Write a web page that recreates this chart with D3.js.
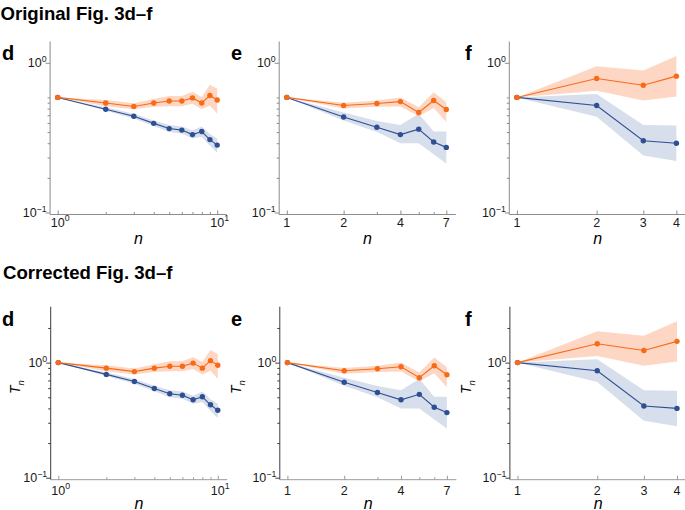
<!DOCTYPE html>
<html>
<head>
<meta charset="utf-8">
<script src="https://cdn.jsdelivr.net/npm/d3@7"></script>
<style>
  body { margin: 0; background: #fff; }
  svg { display: block; }
  text { font-family: "Liberation Sans", Arial, Helvetica, sans-serif; }
</style>
</head>
<body>
<svg id="chart" width="685" height="510"></svg>
<script>
// ---- data ----
const nD = [1, 2, 3, 4, 5, 6, 7, 8, 9, 10];
const orangeD   = [1, 0.895, 0.835, 0.895, 0.93, 0.93, 0.99, 0.895, 1.04, 0.95];
const orangeDHi = [1, 0.95, 0.89, 0.97, 1.03, 1.03, 1.12, 1.01, 1.29, 1.19];
const orangeDLo = [1, 0.84, 0.79, 0.83, 0.84, 0.84, 0.88, 0.79, 0.85, 0.72];
const blueD     = [1, 0.79, 0.685, 0.595, 0.536, 0.52, 0.475, 0.505, 0.43, 0.385];
const blueDHi   = [1, 0.82, 0.72, 0.63, 0.575, 0.56, 0.515, 0.56, 0.48, 0.44];
const blueDLo   = [1, 0.765, 0.655, 0.565, 0.5, 0.485, 0.44, 0.455, 0.38, 0.33];

const nE = [1, 2, 3, 4, 5, 6, 7];
const orangeE   = [1, 0.85, 0.885, 0.92, 0.74, 0.94, 0.785];
const orangeEHi = [1, 0.9, 0.94, 1.0, 0.82, 1.11, 0.91];
const orangeELo = [1, 0.8, 0.83, 0.835, 0.685, 0.81, 0.61];
const blueE     = [1, 0.675, 0.55, 0.475, 0.53, 0.41, 0.368];
const blueEHi   = [1, 0.74, 0.625, 0.575, 0.72, 0.505, 0.505];
const blueELo   = [1, 0.63, 0.5, 0.4, 0.4, 0.32, 0.267];

const nF = [1, 2, 3, 4];
const orangeF   = [1, 1.46, 1.275, 1.53];
const orangeFHi = [1, 1.87, 1.71, 2.29];
const orangeFLo = [1, 1.14, 0.94, 1.02];
const blueF     = [1, 0.85, 0.42, 0.40];
const blueFHi   = [1, 1.07, 0.575, 0.57];
const blueFLo   = [1, 0.68, 0.313, 0.28];

// tick values / labels
const xMajorD = [1, 10],       xLabelsD = ["10^0", "10^1"];
const xMinorD = [2, 3, 4, 5, 6, 7, 8, 9];
const xMajorE = [1, 2, 4, 7],  xLabelsE = ["1", "2", "4", "7"];
const xMinorE = [3, 5, 6];
const xMajorF = [1, 2, 3, 4],  xLabelsF = ["1", "2", "3", "4"];
const xMinorF = [];

// the original figure labels its upper decade at the wrong height
const yMajorOrig = [0.1, 2],   yLabelsOrig = ["10^\u22121", "10^0"];
const yMinorOrig = [0.2, 0.3, 0.4, 0.5, 0.6, 0.7, 0.8, 0.9, 1];
const yMajorCorr = [0.1, 1],   yLabelsCorr = ["10^\u22121", "10^0"];
const yMinorCorr = [0.2, 0.3, 0.4, 0.5, 0.6, 0.7, 0.8, 0.9, 2];

const titles = ["Original Fig. 3d\u2013f", "Corrected Fig. 3d\u2013f"];
const letters = ["d", "e", "f"];

// ---- build ----
const ORANGE = "#f96a16", BLUE = "#2f4f93";
const svg = d3.select("#chart");

const zip = (n, v, lo, hi) => n.map((d, i) => ({ n: d, v: v[i], lo: lo[i], hi: hi[i] }));

const panelDefs = [
  { nMax: 10, x0: 57.7, xMajor: xMajorD, xLabels: xLabelsD, xMinor: xMinorD, letterX: 2,
    orange: zip(nD, orangeD, orangeDLo, orangeDHi), blue: zip(nD, blueD, blueDLo, blueDHi), tnX: 20 },
  { nMax: 7, x0: 286.8, xMajor: xMajorE, xLabels: xLabelsE, xMinor: xMinorE, letterX: 231,
    orange: zip(nE, orangeE, orangeELo, orangeEHi), blue: zip(nE, blueE, blueELo, blueEHi), tnX: 241 },
  { nMax: 4, x0: 516.9, xMajor: xMajorF, xLabels: xLabelsF, xMinor: xMinorF, letterX: 465,
    orange: zip(nF, orangeF, orangeFLo, orangeFHi), blue: zip(nF, blueF, blueFLo, blueFHi), tnX: 471 }
];

const rowDefs = [
  { title: titles[0], titleX: 0.5, titleY: 19.5, yBase: 212.5, letterY: 60, dx: 0,
    yMajor: yMajorOrig, yLabels: yLabelsOrig, yMinor: yMinorOrig,
    yAxisCol: "#8c8c8c", xAxisCol: "#8c8c8c", xLabY: 226.5, nLabY: 243.5, tn: false },
  { title: titles[1], titleX: 3, titleY: 278.5, yBase: 477.7, letterY: 326, dx: 0.6,
    yMajor: yMajorCorr, yLabels: yLabelsCorr, yMinor: yMinorCorr,
    yAxisCol: "#3c3c3c", xAxisCol: "#9a9a9a", xLabY: 494.5, nLabY: 509, tn: true }
];

// text with optional superscript after "^"
function powText(g, x, y, txt, anchor, size) {
  const parts = txt.split("^");
  const t = g.append("text")
      .attr("x", x).attr("y", y)
      .attr("text-anchor", anchor)
      .attr("font-size", size)
      .attr("fill", "#1a1a1a");
  t.append("tspan").text(parts[0]);
  if (parts[1]) t.append("tspan").attr("dy", -5.5).attr("font-size", size * 0.7).text(parts[1]);
  return t;
}

rowDefs.forEach(row => {
  svg.append("text")
      .attr("x", row.titleX).attr("y", row.titleY)
      .attr("font-size", 18.6).attr("font-weight", "bold")
      .text(row.title);

  panelDefs.forEach((p, pi) => {
    const g = svg.append("g");
    const x0 = p.x0 + row.dx;
    const axisX = x0 - 7.6;
    const xEnd = x0 + 159.5 + 9.5;

    const x = d3.scaleLog().domain([1, p.nMax]).range([x0, x0 + 159.5]);
    const y = d3.scaleLog().domain([0.1, 3]).range([row.yBase, row.yBase - 170]);
    const xAxisY = row.yBase + 2;

    // panel letter
    g.append("text")
        .attr("x", p.letterX).attr("y", row.letterY)
        .attr("font-size", 20).attr("font-weight", "bold")
        .text(letters[pi]);

    // axis lines
    g.append("line")
        .attr("x1", axisX).attr("x2", axisX)
        .attr("y1", row.yBase - 171).attr("y2", xAxisY)
        .attr("stroke", row.yAxisCol).attr("stroke-width", 1);
    g.append("line")
        .attr("x1", axisX).attr("x2", xEnd)
        .attr("y1", xAxisY).attr("y2", xAxisY)
        .attr("stroke", row.xAxisCol).attr("stroke-width", 1);

    // y ticks (outward)
    const yAx = g.append("g").attr("transform", `translate(${axisX},0)`);
    yAx.append("g").call(d3.axisLeft(y).tickValues(row.yMinor).tickSize(2.5).tickFormat(""));
    yAx.append("g").call(d3.axisLeft(y).tickValues(row.yMajor).tickSize(4.5).tickFormat(""));
    yAx.selectAll(".domain").remove();
    yAx.selectAll(".tick line").attr("stroke", row.yAxisCol);
    row.yMajor.forEach((v, i) => powText(g, axisX - 3.5, y(v) + 4.5, row.yLabels[i], "end", 12.5));

    // x ticks (pointing up, into the plot)
    const xAx = g.append("g").attr("transform", `translate(0,${xAxisY})`);
    xAx.append("g").call(d3.axisTop(x).tickValues(p.xMinor).tickSize(2.5).tickFormat(""));
    xAx.append("g").call(d3.axisTop(x).tickValues(p.xMajor).tickSize(4).tickFormat(""));
    xAx.selectAll(".domain").remove();
    xAx.selectAll(".tick line").attr("stroke", row.xAxisCol);
    p.xMajor.forEach((v, i) => {
      const lab = p.xLabels[i];
      if (lab.includes("^")) powText(g, x(v) - 12.5 * 0.556, row.xLabY, lab, "start", 12.5);
      else powText(g, x(v), row.xLabY, lab, "middle", 12.5);
    });

    // axis titles
    g.append("text")
        .attr("x", (axisX + xEnd) / 2).attr("y", row.nLabY)
        .attr("text-anchor", "middle")
        .attr("font-size", 16).attr("font-style", "italic")
        .text("n");
    if (row.tn) {
      const t = g.append("text")
          .attr("transform", `translate(${p.tnX},387) rotate(-90)`)
          .attr("text-anchor", "middle")
          .attr("font-size", 14).attr("font-style", "italic");
      t.append("tspan").text("T");
      t.append("tspan").attr("dy", 3.5).attr("font-size", 9.5).text("n");
    }

    // bands, lines, points
    const area = d3.area().x(d => x(d.n)).y0(d => y(d.lo)).y1(d => y(d.hi));
    const line = d3.line().x(d => x(d.n)).y(d => y(d.v));
    const series = [
      { data: p.blue, col: BLUE, band: "#4767a8", op: 0.22 },
      { data: p.orange, col: ORANGE, band: "#f7793a", op: 0.3 }
    ];
    series.forEach(s => {
      g.append("path").datum(s.data).attr("d", area)
          .attr("fill", s.band).attr("fill-opacity", s.op);
    });
    series.forEach(s => {
      g.append("path").datum(s.data).attr("d", line)
          .attr("fill", "none").attr("stroke", s.col).attr("stroke-width", 1.1);
      g.selectAll(null).data(s.data).enter().append("circle")
          .attr("cx", d => x(d.n)).attr("cy", d => y(d.v))
          .attr("r", 2.7).attr("fill", s.col);
    });
  });
});
</script>
</body>
</html>
